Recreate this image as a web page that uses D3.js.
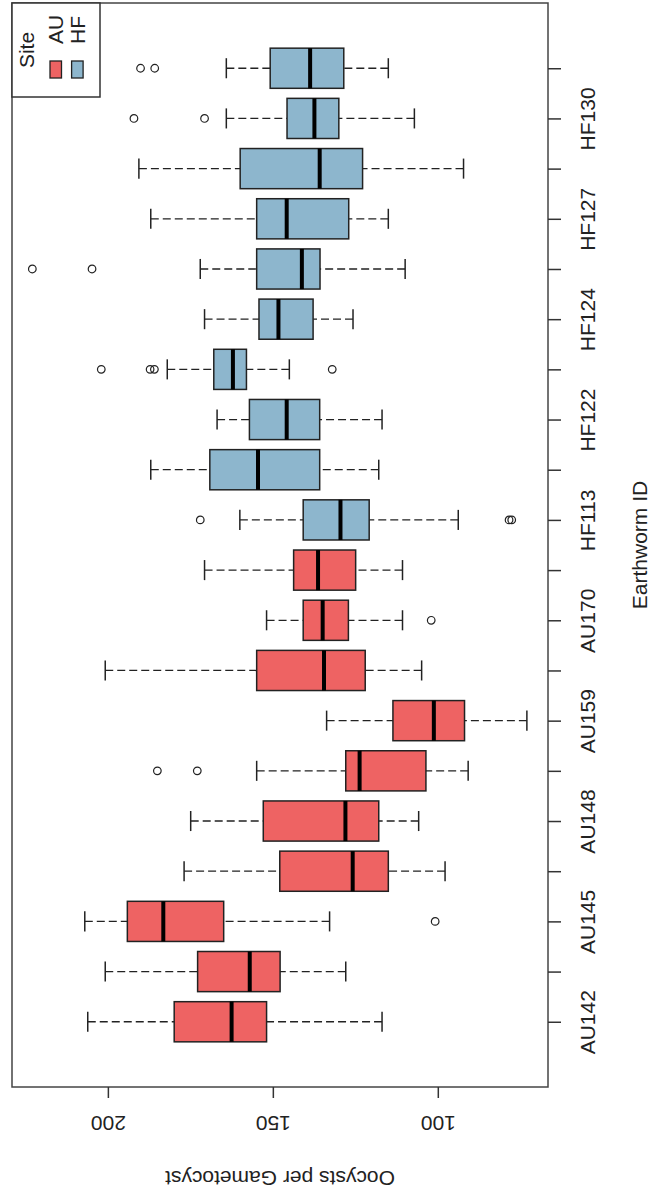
<!DOCTYPE html>
<html>
<head>
<meta charset="utf-8">
<script src="https://cdn.jsdelivr.net/npm/d3@7"></script>
<style>
  body { margin: 0; background: #fff; }
  text { font-family: "Liberation Sans", Arial, sans-serif; fill: #222; }
</style>
</head>
<body>
<div id="chart"></div>
<script>
var width = 651, height = 1197;
var plot = {left: 12, right: 548, top: 3, bottom: 1087};

// earthworms, in plotting order (only every other label fits on the axis)
var worms = ["AU142", "AU144", "AU145", "AU146", "AU148", "AU152", "AU159", "AU165", "AU170", "AU173",
             "HF113", "HF117", "HF122", "HF123", "HF124", "HF126", "HF127", "HF128", "HF130", "HF132"];
var sites = ["AU", "AU", "AU", "AU", "AU", "AU", "AU", "AU", "AU", "AU",
             "HF", "HF", "HF", "HF", "HF", "HF", "HF", "HF", "HF", "HF"];
var whiskerLow  = [116.9, 127.9, 132.8,  97.8, 105.8,  90.8,  73.0, 104.9, 110.7, 110.7,
                    93.8, 117.9, 116.9, 145.0, 125.7, 109.9, 115.0,  92.2, 107.1, 115.0];
var q1          = [151.9, 147.8, 164.9, 115.0, 117.9, 103.6,  91.9, 122.0, 127.1, 124.9,
                   120.8, 135.8, 135.8, 158.0, 137.8, 135.7, 127.0, 122.8, 130.0, 128.5];
var median      = [162.5, 157.0, 183.2, 125.8, 128.0, 123.7, 101.2, 134.5, 134.9, 136.3,
                   129.5, 154.5, 145.8, 162.1, 148.3, 141.2, 145.8, 135.8, 137.4, 138.7];
var q3          = [179.9, 172.8, 194.1, 147.9, 152.9, 127.9, 113.6, 154.9, 140.8, 143.7,
                   140.8, 169.1, 157.1, 167.9, 154.2, 154.9, 154.9, 159.9, 145.7, 150.8];
var whiskerHigh = [206.1, 200.8, 207.0, 176.9, 174.9, 154.9, 133.7, 200.8, 151.9, 170.7,
                   160.0, 187.0, 166.9, 182.0, 170.7, 172.0, 187.0, 190.6, 164.1, 164.1];
var outliers    = [[], [], [100.8], [], [], [185.0, 172.9], [], [], [102.0], [],
                   [172.0, 78.4, 77.6], [], [], [202.0, 187.2, 185.9, 132.0], [], [222.9, 204.8], [], [], [192.1, 170.7], [190.1, 185.8]];
var valueTicks = [100, 150, 200];
var siteNames = ["AU", "HF"];
var siteColors = ["#EE6363", "#8DB6CD"];

var color = d3.scaleOrdinal().domain(siteNames).range(siteColors);

var svg = d3.select("#chart").append("svg")
    .attr("width", width)
    .attr("height", height);

// values run right to left, worms run bottom to top
var x = d3.scaleLinear()
    .domain([229.06, 66.6])
    .range([plot.left, plot.right]);

var y = d3.scaleLinear()
    .domain([-0.3, worms.length + 1.3])
    .range([plot.bottom, plot.top]);

var step = y(0) - y(1),
    boxW = 0.8 * step,
    staple = boxW / 4;

var data = worms.map(function(w, i) {
  return {name: w, pos: i + 1, site: sites[i], lo: whiskerLow[i], q1: q1[i], med: median[i],
          q3: q3[i], hi: whiskerHigh[i], out: outliers[i]};
});

var g = svg.selectAll(".worm")
  .data(data)
  .enter().append("g")
    .attr("class", "worm")
    .attr("transform", function(d) { return "translate(0," + y(d.pos) + ")"; });

g.append("line")
    .attr("x1", function(d) { return x(d.hi); })
    .attr("x2", function(d) { return x(d.q3); })
    .attr("stroke", "#222").attr("stroke-width", 1.3).attr("stroke-dasharray", "8,4");
g.append("line")
    .attr("x1", function(d) { return x(d.lo); })
    .attr("x2", function(d) { return x(d.q1); })
    .attr("stroke", "#222").attr("stroke-width", 1.3).attr("stroke-dasharray", "8,4");

g.selectAll(".staple")
  .data(function(d) { return [d.hi, d.lo]; })
  .enter().append("line")
    .attr("class", "staple")
    .attr("x1", function(v) { return x(v); })
    .attr("x2", function(v) { return x(v); })
    .attr("y1", -staple).attr("y2", staple)
    .attr("stroke", "#222").attr("stroke-width", 1.5);

g.append("rect")
    .attr("x", function(d) { return x(d.q3); })
    .attr("width", function(d) { return x(d.q1) - x(d.q3); })
    .attr("y", -boxW / 2)
    .attr("height", boxW)
    .attr("fill", function(d) { return color(d.site); })
    .attr("stroke", "#222").attr("stroke-width", 1.5);

g.append("line")
    .attr("x1", function(d) { return x(d.med); })
    .attr("x2", function(d) { return x(d.med); })
    .attr("y1", -boxW / 2).attr("y2", boxW / 2)
    .attr("stroke", "#000").attr("stroke-width", 4);

g.selectAll(".out")
  .data(function(d) { return d.out; })
  .enter().append("circle")
    .attr("class", "out")
    .attr("cx", function(v) { return x(v); })
    .attr("r", 3.8)
    .attr("fill", "none")
    .attr("stroke", "#222").attr("stroke-width", 1.2);

// frame
svg.append("rect")
    .attr("x", plot.left).attr("y", plot.top)
    .attr("width", plot.right - plot.left)
    .attr("height", plot.bottom - plot.top)
    .attr("fill", "none")
    .attr("stroke", "#444").attr("stroke-width", 1.5);

// value axis, labels upside down
var xAxis = svg.append("g")
    .attr("transform", "translate(0," + plot.bottom + ")")
    .call(d3.axisBottom(x).tickValues(valueTicks).tickSize(11).tickSizeOuter(0));
xAxis.select(".domain").remove();
xAxis.selectAll("line").attr("stroke", "#333").attr("stroke-width", 1.5);
xAxis.selectAll("text")
    .attr("y", null).attr("dy", "0.35em")
    .attr("transform", "translate(0,36) rotate(180)")
    .attr("font-size", 21)
    .style("fill", "#222");

// worm axis, every other label
var yAxis = svg.append("g")
    .attr("transform", "translate(" + plot.right + ",0)")
    .call(d3.axisRight(y)
      .tickValues(d3.range(1, worms.length + 1))
      .tickSize(13).tickSizeOuter(0)
      .tickFormat(function(d) { return d % 2 === 1 ? worms[d - 1] : ""; }));
yAxis.select(".domain").remove();
yAxis.selectAll("line").attr("stroke", "#333").attr("stroke-width", 1.5);
yAxis.selectAll("text")
    .attr("x", null).attr("dy", "0.35em")
    .attr("text-anchor", "middle")
    .attr("transform", "translate(40,0) rotate(-90)")
    .attr("font-size", 21)
    .style("fill", "#222");

svg.append("text")
    .attr("transform", "translate(" + (plot.left + plot.right) / 2 + ",1178) rotate(180)")
    .attr("text-anchor", "middle").attr("dy", "0.35em")
    .attr("font-size", 21)
    .text("Oocysts per Gametocyst");

svg.append("text")
    .attr("transform", "translate(640," + (plot.top + plot.bottom) / 2 + ") rotate(-90)")
    .attr("text-anchor", "middle").attr("dy", "0.35em")
    .attr("font-size", 21)
    .text("Earthworm ID");

// legend
var legend = svg.append("g");
legend.append("rect")
    .attr("x", plot.left).attr("y", plot.top)
    .attr("width", 100 - plot.left).attr("height", 97 - plot.top)
    .attr("fill", "#fff")
    .attr("stroke", "#333").attr("stroke-width", 1.5);
legend.append("text")
    .attr("transform", "translate(27,50) rotate(-90)")
    .attr("text-anchor", "middle").attr("dy", "0.35em")
    .attr("font-size", 21)
    .text("Site");
var item = legend.selectAll(".item")
  .data(siteNames)
  .enter().append("g")
    .attr("class", "item")
    .attr("transform", function(d, i) { return "translate(" + (56 + i * 21.6) + ",0)"; });
item.append("rect")
    .attr("x", -6).attr("y", 61)
    .attr("width", 11.5).attr("height", 17)
    .attr("fill", function(d) { return color(d); })
    .attr("stroke", "#222").attr("stroke-width", 1.3);
item.append("text")
    .attr("transform", "translate(0,44) rotate(-90)")
    .attr("dy", "0.35em")
    .attr("font-size", 21)
    .text(function(d) { return d; });
</script>
</body>
</html>
